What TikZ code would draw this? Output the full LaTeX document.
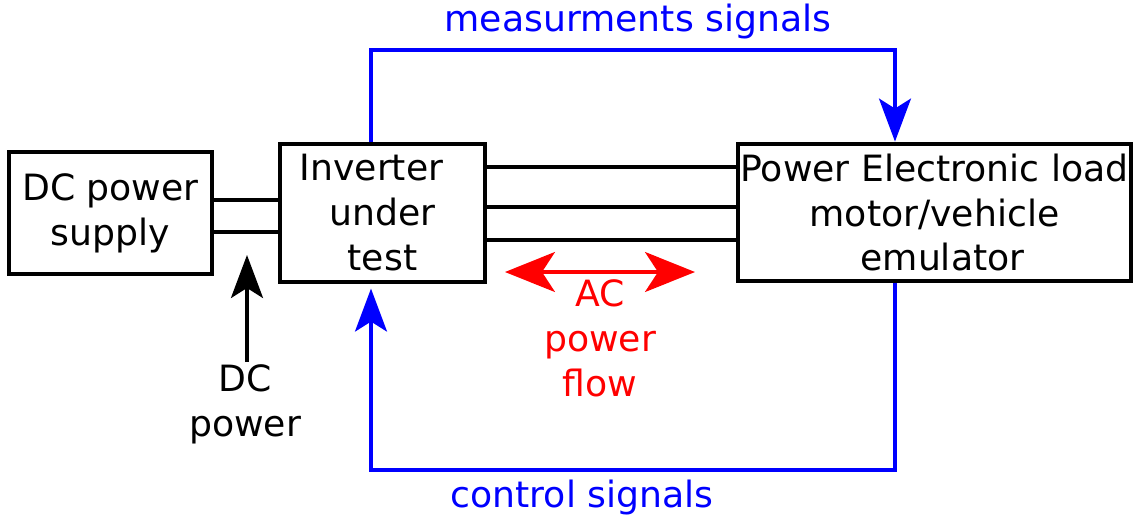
\documentclass[tikz,border=0pt]{standalone}
\usepackage{fontspec}
\setmainfont{DejaVu Sans}
\usetikzlibrary{arrows.meta,positioning}

\tikzset{
  blk/.style={draw, line width=0.9pt, align=center, inner sep=0pt},
  wire/.style={line width=0.9pt},
  sig/.style={line width=0.9pt, blue},
}

\begin{document}
\begin{tikzpicture}[>={Stealth[length=0.43cm, width=0.32cm, inset=0.1cm]},
    font=\fontsize{10.3}{12.8}\selectfont]
  \useasboundingbox (0,0) rectangle (11.33,5.21);
  % blocks
  \node[blk, minimum width=2.03cm, minimum height=1.22cm] (dcsup) at (1.105,3.08) {DC power\\supply};
  \node[blk, minimum width=2.05cm, minimum height=1.38cm] (inv) at (3.825,3.08)
    {Inverter\hspace*{0.22cm}\\under\hspace*{0.08cm}\\test};
  \node[blk, line width=1.4pt, minimum width=3.93cm, minimum height=1.37cm] (load) at (9.345,3.085)
    {Power Electronic load\\motor/vehicle\hspace*{0.3cm}\\\hspace*{0.16cm}emulator};
  % dc link
  \draw[wire] (dcsup.east |- 0,3.21) -- (inv.west |- 0,3.21);
  \draw[wire] (dcsup.east |- 0,2.89) -- (inv.west |- 0,2.89);
  % three phases
  \foreach \y in {3.54,3.14,2.81}
    \draw[wire] (inv.east |- 0,\y) -- (load.west |- 0,\y);
  % dc power arrow
  \node[align=center] (dclbl) at (2.45,1.17) {DC\\power};
  \coordinate (dcbot) at (2.47,1.59);
  \draw[->, wire] (dcbot) -- (dcbot |- 0,2.66);
  % ac power flow
  \coordinate (acl) at (5.05,2.49);
  \coordinate (acr) at (6.95,2.49);
  \draw[<->, wire, red, >={Stealth[length=0.5cm, width=0.4cm, inset=0.13cm]}] (acl) -- (acr);
  \node[red, align=center] (aclbl) at (6.0,1.83) {AC\\power\\flow};
  % signals
  \coordinate (mleft) at (3.71,4.71);
  \coordinate (mright) at (8.95,4.71);
  \draw[sig, ->] (inv.north -| mleft) -- (mleft) -- (mright) -- (load.north -| mright);
  \node[blue] (mlbl) at (6.38,4.99) {measurments signals};
  \coordinate (cleft) at (3.71,0.51);
  \coordinate (cright) at (8.95,0.51);
  \draw[sig, ->, shorten >=0.05cm] (load.south -| cright) -- (cright) -- (cleft) -- (inv.south -| cleft);
  \node[blue] (clbl) at (5.82,0.23) {control signals};
\end{tikzpicture}
\end{document}
